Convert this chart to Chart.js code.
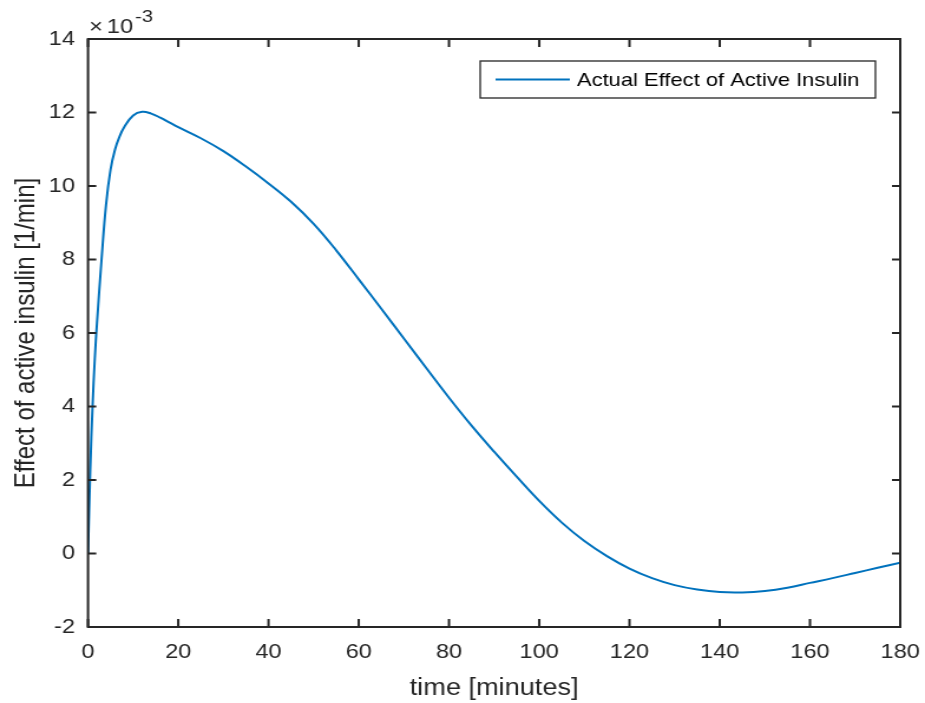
<!DOCTYPE html>
<html>
<head>
<meta charset="utf-8">
<script src="https://cdn.jsdelivr.net/npm/chart.js@4.4.1/dist/chart.umd.min.js"></script>
<style>
  html, body { margin: 0; padding: 0; background: #fff; overflow: hidden; }
  #wrap { width: 784px; height: 703px; transform: scaleX(1.17985); transform-origin: 0 0; }
</style>
</head>
<body>
<div id="wrap"><canvas id="insulinChart" width="784" height="703"></canvas></div>
<script>
// effect of active insulin (units of 1e-3 1/min)
const timeMin = [0, 0.5, 1, 1.5, 2, 3, 4, 5, 6, 7, 8, 10, 12, 14, 16, 18, 20, 25, 30, 35,
  40, 45, 50, 55, 60, 65, 70, 75, 80, 85, 90, 95, 100, 105, 110, 115, 120, 125, 130,
  135, 140, 145, 150, 155, 160, 165, 170, 175, 180];
const effect = [0, 2.3, 4.0, 5.3, 6.3, 8.0, 9.5, 10.45, 11.0, 11.35, 11.6, 11.92, 12.02, 11.97,
  11.86, 11.73, 11.6, 11.3, 10.95, 10.53, 10.07, 9.57, 8.97, 8.25, 7.46, 6.66, 5.85, 5.04,
  4.24, 3.48, 2.77, 2.09, 1.43, 0.84, 0.34, -0.07, -0.41, -0.67, -0.86, -0.98, -1.05, -1.06,
  -1.02, -0.93, -0.8, -0.67, -0.53, -0.39, -0.25];
const xTicks = [0, 20, 40, 60, 80, 100, 120, 140, 160, 180];
const yTicks = [-2, 0, 2, 4, 6, 8, 10, 12, 14];
const seriesLabel = "Actual Effect of Active Insulin";
const yExponent = "-3";

const ink = "#262626";
const FONT = "'Liberation Sans', Arial, Helvetica, sans-serif";

// box round the axes, inward ticks on all four sides, exponent and legend
const matlabAxes = {
  id: "matlabAxes",
  afterDraw(chart) {
    const ctx = chart.ctx;
    const a = chart.chartArea;
    const xs = chart.scales.x;
    const ys = chart.scales.y;
    ctx.save();
    ctx.strokeStyle = ink;
    ctx.lineWidth = 2;
    ctx.beginPath();
    xTicks.forEach(function (v) {
      const px = xs.getPixelForValue(v);
      ctx.moveTo(px, a.bottom); ctx.lineTo(px, a.bottom - 8);
      ctx.moveTo(px, a.top); ctx.lineTo(px, a.top + 8);
    });
    yTicks.forEach(function (v) {
      const py = ys.getPixelForValue(v);
      ctx.moveTo(a.left, py); ctx.lineTo(a.left + 7, py);
      ctx.moveTo(a.right, py); ctx.lineTo(a.right - 7, py);
    });
    ctx.stroke();
    ctx.strokeRect(a.left, a.top, a.right - a.left, a.bottom - a.top);

    // x10^-3 above the y axis
    ctx.fillStyle = ink;
    ctx.textBaseline = "alphabetic";
    ctx.textAlign = "left";
    ctx.font = "20px " + FONT;
    ctx.fillText("\u00d7", a.left + 1, 33);
    ctx.fillText("10", a.left + 16, 33);
    ctx.font = "17px " + FONT;
    ctx.fillText(yExponent, a.left + 40, 22);

    // legend box
    const ds = chart.data.datasets[0];
    const bx = 407, by = 61, bw = 335, bh = 37;
    ctx.fillStyle = "#fff";
    ctx.fillRect(bx, by, bw, bh);
    ctx.lineWidth = 1.3;
    ctx.strokeStyle = ink;
    ctx.strokeRect(bx, by, bw, bh);
    ctx.strokeStyle = ds.borderColor;
    ctx.lineWidth = ds.borderWidth;
    ctx.beginPath();
    ctx.moveTo(420, 79.5); ctx.lineTo(483, 79.5);
    ctx.stroke();
    ctx.fillStyle = "#000";
    ctx.font = "18.6px " + FONT;
    ctx.textBaseline = "middle";
    ctx.fillText(ds.label, 489, 81);
    ctx.restore();
  }
};

new Chart(document.getElementById("insulinChart"), {
  type: "line",
  data: {
    datasets: [{
      label: seriesLabel,
      data: timeMin.map(function (t, i) { return { x: t, y: effect[i] }; }),
      borderColor: "#0072BD",
      borderWidth: 2,
      pointRadius: 0,
      tension: 0.4,
      fill: false
    }]
  },
  options: {
    responsive: false,
    animation: false,
    layout: { padding: { left: 0, top: 39, right: 21, bottom: 0 } },
    plugins: {
      legend: { display: false },
      tooltip: { enabled: false }
    },
    scales: {
      x: {
        type: "linear",
        min: 0,
        max: 180,
        afterBuildTicks: function (s) { s.ticks = xTicks.map(function (v) { return { value: v }; }); },
        afterFit: function (s) { s.height = 76; s.paddingLeft = 0; s.paddingRight = 0; },
        grid: { display: false, drawTicks: false },
        border: { display: false },
        ticks: { color: ink, font: { family: FONT, size: 20 }, padding: 13, maxRotation: 0 },
        title: {
          display: true,
          text: "time [minutes]",
          color: ink,
          font: { family: FONT, size: 23 },
          padding: { top: 0, bottom: 1 }
        }
      },
      y: {
        type: "linear",
        min: -2,
        max: 14,
        afterBuildTicks: function (s) { s.ticks = yTicks.map(function (v) { return { value: v }; }); },
        afterFit: function (s) { s.width = 74.6; s.paddingTop = 0; s.paddingBottom = 0; },
        grid: { display: false, drawTicks: false },
        border: { display: false },
        ticks: { color: ink, font: { family: FONT, size: 20 }, padding: 11 },
        title: {
          display: true,
          text: "Effect of active insulin [1/min]",
          color: ink,
          font: { family: FONT, size: 24 },
          padding: { top: 8, bottom: 0 }
        }
      }
    }
  },
  plugins: [matlabAxes]
});
</script>
</body>
</html>
